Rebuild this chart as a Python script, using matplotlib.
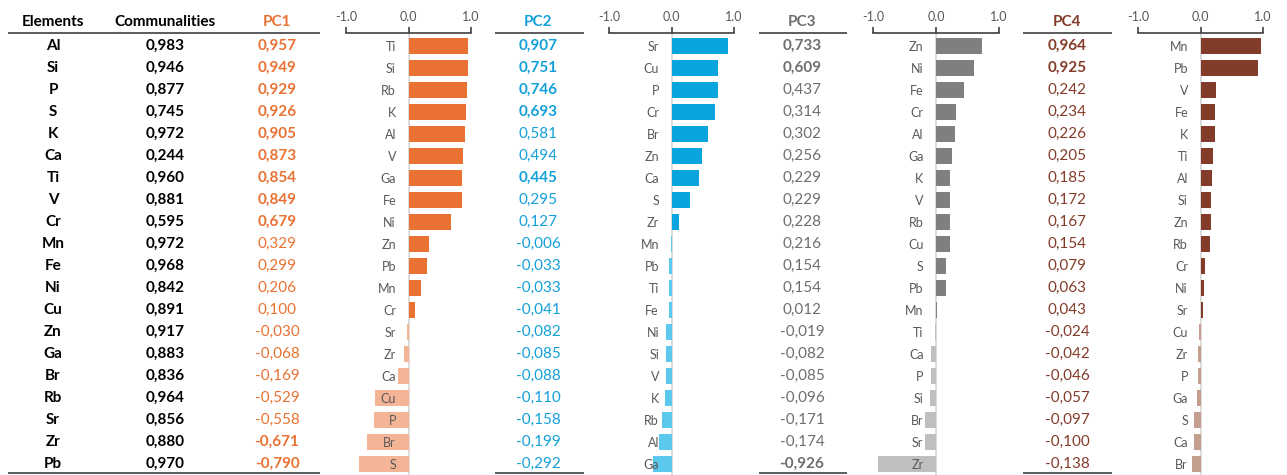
import numpy as np
import matplotlib
matplotlib.use("Agg")
import matplotlib.pyplot as plt

plt.rcParams["font.family"] = ["Lato", "DejaVu Sans"]

# ==== table data ====
elements = ["Al", "Si", "P", "S", "K", "Ca", "Ti", "V", "Cr", "Mn",
            "Fe", "Ni", "Cu", "Zn", "Ga", "Br", "Rb", "Sr", "Zr", "Pb"]
communalities = [0.983, 0.946, 0.877, 0.745, 0.972, 0.244, 0.960, 0.881, 0.595, 0.972,
                 0.968, 0.842, 0.891, 0.917, 0.883, 0.836, 0.964, 0.856, 0.880, 0.970]

pc1 = [0.957, 0.949, 0.929, 0.926, 0.905, 0.873, 0.854, 0.849, 0.679, 0.329,
       0.299, 0.206, 0.100, -0.030, -0.068, -0.169, -0.529, -0.558, -0.671, -0.790]
pc2 = [0.907, 0.751, 0.746, 0.693, 0.581, 0.494, 0.445, 0.295, 0.127, -0.006,
       -0.033, -0.033, -0.041, -0.082, -0.085, -0.088, -0.110, -0.158, -0.199, -0.292]
pc3 = [0.733, 0.609, 0.437, 0.314, 0.302, 0.256, 0.229, 0.229, 0.228, 0.216,
       0.154, 0.154, 0.012, -0.019, -0.082, -0.085, -0.096, -0.171, -0.174, -0.926]
pc4 = [0.964, 0.925, 0.242, 0.234, 0.226, 0.205, 0.185, 0.172, 0.167, 0.154,
       0.079, 0.063, 0.043, -0.024, -0.042, -0.046, -0.057, -0.097, -0.100, -0.138]

# values printed in bold in the table
pc1_bold = [1, 1, 1, 1, 1, 1, 1, 1, 1, 0, 0, 0, 0, 0, 0, 0, 0, 0, 1, 1]
pc2_bold = [1, 1, 1, 1, 0, 0, 1, 0, 0, 0, 0, 0, 0, 0, 0, 0, 0, 0, 0, 0]
pc3_bold = [1, 1, 0, 0, 0, 0, 0, 0, 0, 0, 0, 0, 0, 0, 0, 0, 0, 0, 0, 1]
pc4_bold = [1, 1, 0, 0, 0, 0, 0, 0, 0, 0, 0, 0, 0, 0, 0, 0, 0, 0, 0, 0]

# bar chart category labels (top to bottom)
pc1_bar_labels = ["Ti", "Si", "Rb", "K", "Al", "V", "Ga", "Fe", "Ni", "Zn",
                  "Pb", "Mn", "Cr", "Sr", "Zr", "Ca", "Cu", "P", "Br", "S"]
pc2_bar_labels = ["Sr", "Cu", "P", "Cr", "Br", "Zn", "Ca", "S", "Zr", "Mn",
                  "Pb", "Ti", "Fe", "Ni", "Si", "V", "K", "Rb", "Al", "Ga"]
pc3_bar_labels = ["Zn", "Ni", "Fe", "Cr", "Al", "Ga", "K", "V", "Rb", "Cu",
                  "S", "Pb", "Mn", "Ti", "Ca", "P", "Si", "Br", "Sr", "Zr"]
pc4_bar_labels = ["Mn", "Pb", "V", "Fe", "K", "Ti", "Al", "Si", "Zn", "Rb",
                  "Cr", "Ni", "Sr", "Cu", "Zr", "P", "Ga", "S", "Ca", "Br"]

# ==== layout (pixels) ====
W, H = 1287, 475
ROW0, ROW_STEP = 46, 22          # centre of first row, row spacing
N = len(elements)


def px_to_row(py):
    return (py - ROW0) / ROW_STEP


def fmt(v):
    return f"{v:.3f}".replace(".", ",")


fig = plt.figure(figsize=(W / 100, H / 100), dpi=100)

# background axes for the table text, x in pixels, y in rows
bg = fig.add_axes([0, 0, 1, 1])
bg.set_xlim(0, W)
bg.set_ylim(px_to_row(H), px_to_row(0))
bg.axis("off")

TEXT_SIZE = 11
header_y = px_to_row(22)
line_top = px_to_row(33)
line_bot = px_to_row(473)
rows = np.arange(N)

bg.text(53, header_y, "Elements", ha="center", va="center", fontsize=TEXT_SIZE, fontweight="bold")
bg.text(165, header_y, "Communalities", ha="center", va="center", fontsize=TEXT_SIZE, fontweight="bold")
for i in rows:
    bg.text(53, i, elements[i], ha="center", va="center", fontsize=TEXT_SIZE, fontweight="bold")
    bg.text(165, i, fmt(communalities[i]), ha="center", va="center", fontsize=TEXT_SIZE, fontweight="bold")
bg.hlines([line_top, line_bot], 8, 320, color="#404040", lw=1.2)

pcs = [
    # name, values, bold, labels, text centre, line x0, x1, axis x(-1), axis x(1), colour, neg colour, text colour
    ("PC1", pc1, pc1_bold, pc1_bar_labels, 277, None, None, 346, 471, "#E97132", "#F4B596", "#E97132"),
    ("PC2", pc2, pc2_bold, pc2_bar_labels, 538, 495, 584, 609, 734, "#0AA4DF", "#5BC9EE", "#12A0DA"),
    ("PC3", pc3, pc3_bold, pc3_bar_labels, 802, 759, 847, 873, 999, "#7F7F7F", "#BFBFBF", "#6E6E6E"),
    ("PC4", pc4, pc4_bold, pc4_bar_labels, 1067, 1023, 1112, 1138, 1263, "#843C2A", "#C49E8F", "#843C2A"),
]

ax_top = 33
ax_bot = 474
for name, vals, bold, labels, cx, lx0, lx1, ax0, ax1, col, neg_col, txt_col in pcs:
    bg.text(cx, header_y, name, ha="center", va="center", fontsize=TEXT_SIZE,
            fontweight="bold", color=txt_col)
    for i in rows:
        bg.text(cx, i, fmt(vals[i]), ha="center", va="center", fontsize=TEXT_SIZE,
                fontweight="bold" if bold[i] else "normal", color=txt_col)
    if lx0 is not None:
        bg.hlines([line_top, line_bot], lx0, lx1, color="#404040", lw=1.2)

    ax = fig.add_axes([ax0 / W, 1 - ax_bot / H, (ax1 - ax0) / W, (ax_bot - ax_top) / H])
    ax.patch.set_alpha(0)
    ax.set_axisbelow(False)  # keep category labels on top of negative bars
    v = np.asarray(vals)
    colors = [col if x >= 0 else neg_col for x in v]
    ax.barh(rows, v, height=0.76, color=colors, zorder=2)
    ax.set_xlim(-1, 1)
    ax.set_ylim(px_to_row(ax_bot), px_to_row(ax_top))

    ax.xaxis.tick_top()
    ax.set_xticks([-1, 0, 1])
    ax.set_xticklabels(["-1.0", "0.0", "1.0"])
    ax.tick_params(axis="x", direction="out", length=4, width=1.2, color="#404040",
                   labelsize=9, labelcolor="#595959", pad=3)

    ax.set_yticks(rows)
    ax.set_yticklabels(labels)
    ax.tick_params(axis="y", length=0, pad=9, labelsize=9, labelcolor="#595959")

    ax.spines["left"].set_position(("data", 0))
    ax.spines["left"].set_color("#D9D9D9")
    ax.spines["left"].set_linewidth(1.3)
    ax.spines["left"].set_zorder(1)
    ax.spines["top"].set_color("#404040")
    ax.spines["top"].set_linewidth(1.2)
    ax.spines["right"].set_visible(False)
    ax.spines["bottom"].set_visible(False)

fig.savefig("out.png", dpi=100)
plt.close(fig)
